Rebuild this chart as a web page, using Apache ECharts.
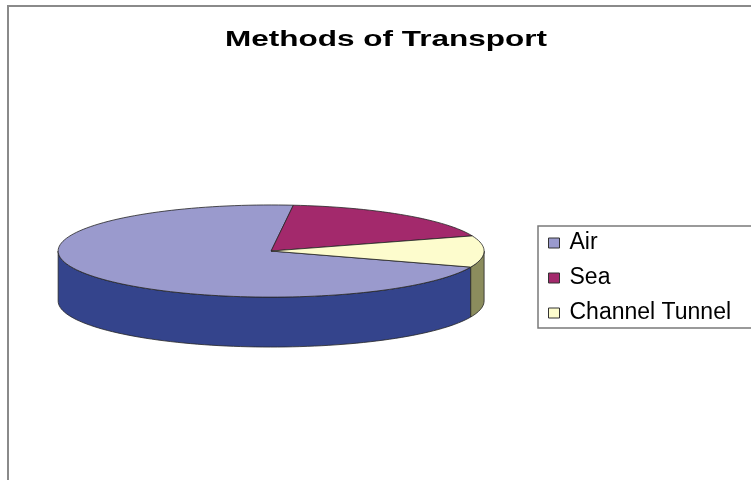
<!DOCTYPE html>
<html>
<head>
<meta charset="utf-8">
<title>Methods of Transport</title>
<script src="https://cdn.jsdelivr.net/npm/echarts@6/dist/echarts.min.js"></script>
<style>
  html, body { margin: 0; padding: 0; background: #fff; }
  #chart { width: 751px; height: 480px; }
</style>
</head>
<body>
<div id="chart"></div>
<script>
// data (percent shares)
const categories = ["Air", "Sea", "Channel Tunnel"];
const shares = [71, 18, 11];

// colours: top face and the darker wall of each slice
const topColors = ["#9a9acd", "#a3296c", "#fdfccd"];
const sideColors = ["#34448c", "#5c1a40", "#8b8c5d"];

// Air starts here, degrees clockwise from 12 o'clock
const startAngle = 110.4;

const chart = echarts.init(document.getElementById("chart"));

// draws one slice of the tilted (3D-looking) pie
function renderSlice(params, api) {
  const i = params.seriesIndex;
  const total = shares.reduce((a, b) => a + b, 0);
  let before = 0;
  for (let k = 0; k < i; k++) before += shares[k];
  const a0 = startAngle + (before / total) * 360;
  const a1 = a0 + (api.value(0) / total) * 360;

  const w = api.getWidth();
  const h = api.getHeight();
  const cx = w * 0.361;
  const cy = h * 0.523;
  const rx = w * 0.2836;
  const ry = h * 0.096;
  const depth = h * 0.104;

  const pt = (deg, dy) => {
    const r = (deg * Math.PI) / 180;
    return [cx + rx * Math.sin(r), cy - ry * Math.cos(r) + dy];
  };
  const arc = (from, to, dy) => {
    const pts = [];
    const n = Math.max(2, Math.ceil((to - from) / 2));
    for (let s = 0; s <= n; s++) pts.push(pt(from + ((to - from) * s) / n, dy));
    return pts;
  };

  const children = [];
  // front wall, only the part facing the viewer (90..270 deg)
  [[90, 270], [450, 630]].forEach(([f0, f1]) => {
    const s0 = Math.max(a0, f0);
    const s1 = Math.min(a1, f1);
    if (s1 > s0) {
      const upper = arc(s0, s1, 0);
      const lower = arc(s0, s1, depth).reverse();
      children.push({
        type: "polygon",
        shape: { points: upper.concat(lower) },
        style: { fill: sideColors[i], stroke: "#262626", lineWidth: 0.8 },
      });
    }
  });
  // top face
  children.push({
    type: "polygon",
    shape: { points: [[cx, cy]].concat(arc(a0, a1, 0)) },
    style: { fill: topColors[i], stroke: "#262626", lineWidth: 0.8 },
  });
  return { type: "group", children: children };
}

const seriesArr = categories.map((name, i) => {
  return {
    type: "custom",
    name: name,
    coordinateSystem: "none",
    renderItem: renderSlice,
    data: [[shares[i]]],
    itemStyle: { color: topColors[i] },
    silent: true,
  };
});

const option = {
  animation: false,
  backgroundColor: "#ffffff",
  graphic: [
    {
      // chart area frame (runs off the right and bottom edges)
      type: "rect",
      z: -1,
      shape: { x: 8, y: 6, width: 800, height: 520 },
      style: { fill: "none", stroke: "#8a8a8a", lineWidth: 2 },
    },
    {
      type: "text",
      x: 386,
      y: 40,
      scaleX: 1.4,
      style: {
        text: "Methods of Transport",
        font: 'bold 22.5px "Liberation Sans"',
        fill: "#000",
        textAlign: "center",
        textVerticalAlign: "middle",
        align: "center",
        verticalAlign: "middle",
      },
    },
  ],
  legend: {
    orient: "vertical",
    left: 538,
    top: 226,
    data: categories,
    icon: "rect",
    itemWidth: 11,
    itemHeight: 10,
    itemGap: 11,
    padding: [5, 60, 3, 10],
    backgroundColor: "#fff",
    borderColor: "#7a7a7a",
    borderWidth: 1.5,
    borderRadius: 0,
    selectedMode: false,
    itemStyle: { borderColor: "#333", borderWidth: 1 },
    textStyle: {
      fontFamily: "Liberation Sans",
      fontSize: 23,
      color: "#000",
      lineHeight: 24,
      padding: [0, 0, 0, 5],
    },
  },
  series: seriesArr,
};

chart.setOption(option);
</script>
</body>
</html>
